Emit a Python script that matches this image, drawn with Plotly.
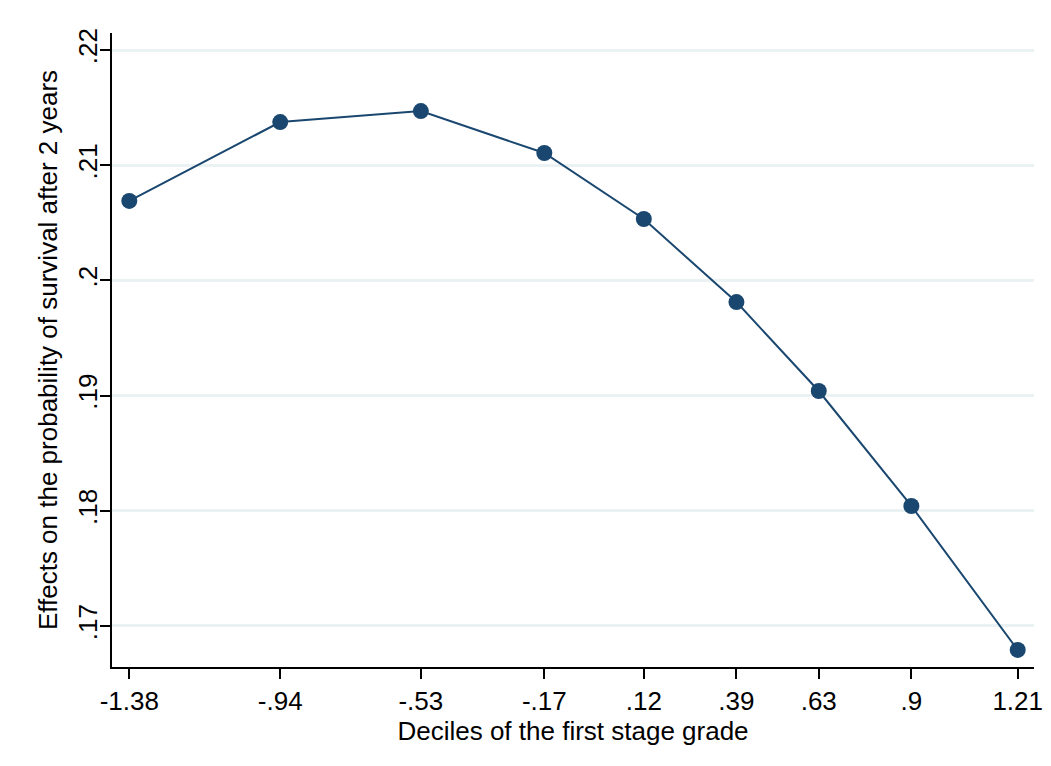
import plotly.graph_objects as go

deciles = [-1.38, -0.94, -0.53, -0.17, 0.12, 0.39, 0.63, 0.9, 1.21]
x_labels = ["-1.38", "-.94", "-.53", "-.17", ".12", ".39", ".63", ".9", "1.21"]
effects = [0.2069, 0.21375, 0.2147, 0.21106, 0.20533, 0.19812, 0.1904, 0.18042, 0.16792]
y_ticks = [0.17, 0.18, 0.19, 0.20, 0.21, 0.22]
y_labels = [".17", ".18", ".19", ".2", ".21", ".22"]

navy = "#1a476f"
font = "Liberation Sans, Arial, Helvetica, sans-serif"
# page body has a default 8px margin, so the figure is sized to fit the window
fig = go.Figure()
fig.add_trace(go.Scatter(
    x=deciles, y=effects, mode="lines+markers",
    line=dict(color=navy, width=2),
    marker=dict(color=navy, size=16),
    showlegend=False,
))

fig.update_layout(
    width=1043, height=758,
    margin=dict(l=104, r=17, t=25, b=99, autoexpand=False),
    paper_bgcolor="white", plot_bgcolor="white",
    font=dict(family=font, size=26, color="black"),
)
fig.update_xaxes(
    range=[-1.4304, 1.2575], automargin=False,
    tickvals=deciles, ticktext=x_labels,
    tickfont=dict(family=font, size=26, color="black"),
    showgrid=False, zeroline=False,
    showline=True, linecolor="black", linewidth=1.5,
    ticks="outside", ticklen=10, tickwidth=1.5, tickcolor="black",
    title=dict(text="Deciles of the first stage grade", standoff=3,
               font=dict(family=font, size=26, color="black")),
)
fig.update_yaxes(
    range=[0.16644, 0.22148], automargin=False,
    tickvals=y_ticks, ticktext=y_labels, tickangle=-90,
    ticklabelstandoff=-7,
    tickfont=dict(family=font, size=26, color="black"),
    showgrid=True, gridcolor="#EAF2F3", gridwidth=2.5, zeroline=False,
    showline=True, linecolor="black", linewidth=1.5,
    ticks="outside", ticklen=10, tickwidth=1.5, tickcolor="black",
    title=dict(text="Effects on the probability of survival after 2 years", standoff=8,
               font=dict(family=font, size=26, color="black")),
)

fig.write_html("out.html")
